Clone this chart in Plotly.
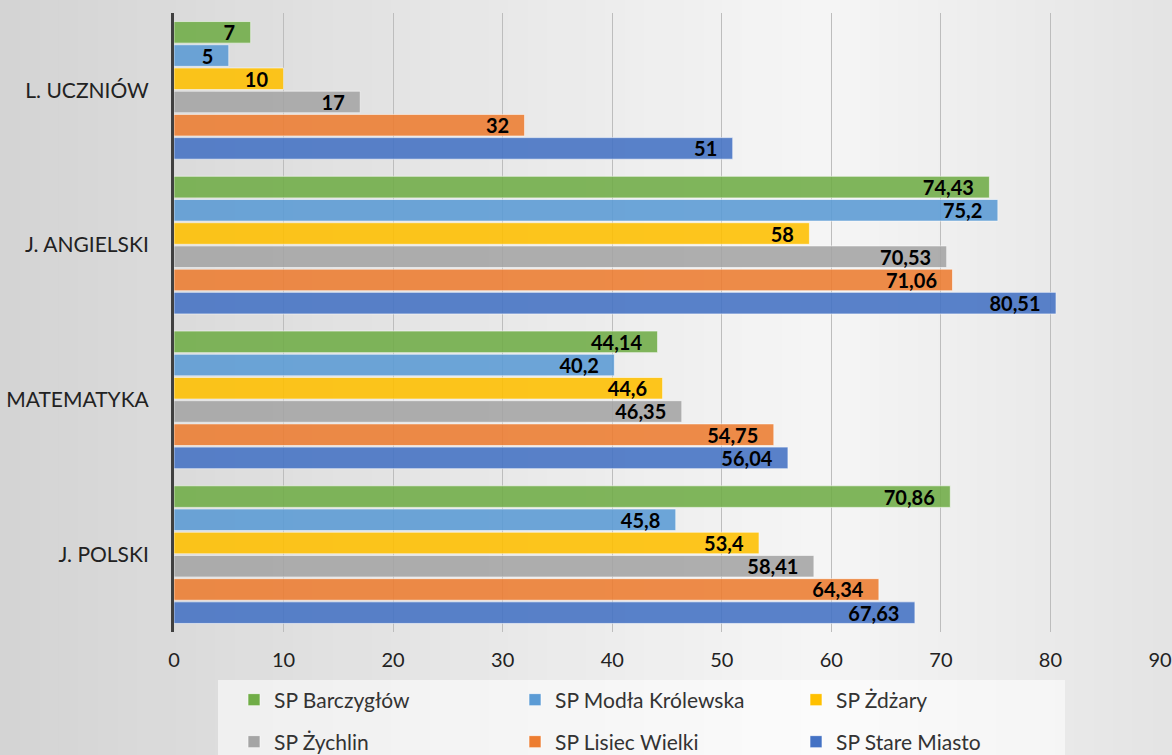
import plotly.graph_objects as go

categories = ['J. POLSKI', 'MATEMATYKA', 'J. ANGIELSKI', 'L. UCZNIÓW']

schools = ['SP Barczygłów', 'SP Modła Królewska', 'SP Żdżary',
           'SP Żychlin', 'SP Lisiec Wielki', 'SP Stare Miasto']

barczyglow = [70.86, 44.14, 74.43, 7]
modla = [45.8, 40.2, 75.2, 5]
zdzary = [53.4, 44.6, 58, 10]
zychlin = [58.41, 46.35, 70.53, 17]
lisiec = [64.34, 54.75, 71.06, 32]
stare_miasto = [67.63, 56.04, 80.51, 51]

x_ticks = [0, 10, 20, 30, 40, 50, 60, 70, 80, 90]

SERIES = [
    (schools[0], barczyglow, '#70AD47', 'legend'),
    (schools[1], modla, '#5B9BD5', 'legend'),
    (schools[2], zdzary, '#FFC000', 'legend'),
    (schools[3], zychlin, '#A5A5A5', 'legend2'),
    (schools[4], lisiec, '#ED7D31', 'legend2'),
    (schools[5], stare_miasto, '#4472C4', 'legend2'),
]

FONT = 'Lato'
W, H = 1172, 755


def fmt(v):
    s = f'{v:g}'
    return s.replace('.', ',')


def init_go():
    fig = go.Figure()
    return fig


def add_background(fig: go.Figure) -> go.Figure:
    # soft grey gradient, built from thin vertical strips
    left, width = 174, 986
    n = 60
    for i in range(n):
        p0 = W * i / n
        p1 = W * (i + 1) / n + 1
        t = (p0 + p1) / 2 / W
        if t < 0.7:
            g = 212 + (246 - 212) * (t / 0.7)
        else:
            g = 246 - (246 - 228) * ((t - 0.7) / 0.3)
        g = int(g)
        fig.add_shape(
            type='rect', xref='paper', yref='paper', layer='below',
            x0=(p0 - left) / width, x1=(p1 - left) / width,
            y0=-0.25, y1=1.05, line_width=0,
            fillcolor=f'rgb({g},{g},{g})',
        )
    # legend box
    fig.add_shape(
        type='rect', xref='paper', yref='paper', layer='below',
        x0=(218 - left) / width, x1=(1065 - left) / width,
        y0=(632 - 760) / 619, y1=(632 - 680) / 619,
        line_width=0, fillcolor='rgba(255,255,255,0.55)',
    )
    return fig


fig = init_go()
fig = add_background(fig)

# plotly stacks horizontal groups bottom-up, so add in reverse order
for rank, (name, values, color, legend) in reversed(list(enumerate(SERIES))):
    fig.add_trace(
        go.Bar(
            y=categories,
            x=values,
            orientation='h',
            name=name,
            legend=legend,
            legendrank=rank + 1,
            marker=dict(color=color, opacity=0.88,
                        line=dict(color='rgba(255,255,255,0.6)', width=1)),
            text=[fmt(v) for v in values],
            texttemplate='%{text}\u2002\u2009',
            textposition='inside',
            insidetextanchor='end',
            textangle=0,
            constraintext='none',
            textfont=dict(family=FONT, size=20, color='black', weight='bold'),
            cliponaxis=False,
        )
    )

legend_style = dict(
    orientation='h',
    xanchor='left',
    yanchor='middle',
    yref='container',
    x=(234 - 174) / 986,
    bgcolor='rgba(0,0,0,0)',
    font=dict(family=FONT, size=21, color='#333333'),
    entrywidth=236,
    entrywidthmode='pixels',
    itemclick=False,
)

fig.update_layout(
    width=W,
    height=H,
    margin=dict(l=174, r=12, t=13, b=123),
    barmode='group',
    bargap=0.1,
    bargroupgap=0.07,
    paper_bgcolor='#E6E6E6',
    plot_bgcolor='rgba(0,0,0,0)',
    font=dict(family=FONT, color='#222222'),
    legend=dict(legend_style, y=1 - 700 / H),
    legend2=dict(legend_style, y=1 - 742 / H),
    xaxis=dict(
        range=[0, 90],
        tickvals=x_ticks,
        showgrid=True,
        gridcolor='#BDBDBD',
        gridwidth=1,
        zeroline=False,
        showline=False,
        automargin=False,
        tickfont=dict(family=FONT, size=20, color='#222222'),
        ticklabelstandoff=14,
    ),
    yaxis=dict(
        categoryorder='array',
        categoryarray=categories,
        showgrid=False,
        showline=True,
        linecolor='#404040',
        linewidth=3,
        automargin=False,
        tickfont=dict(family=FONT, size=21, color='#222222'),
        ticklabelstandoff=18,
    ),
)

# drop the page's default body margin so the figure sits at the window corner
fig.write_html(
    'out.html',
    config={'displayModeBar': False},
    post_script="document.body.style.margin='0';",
)
